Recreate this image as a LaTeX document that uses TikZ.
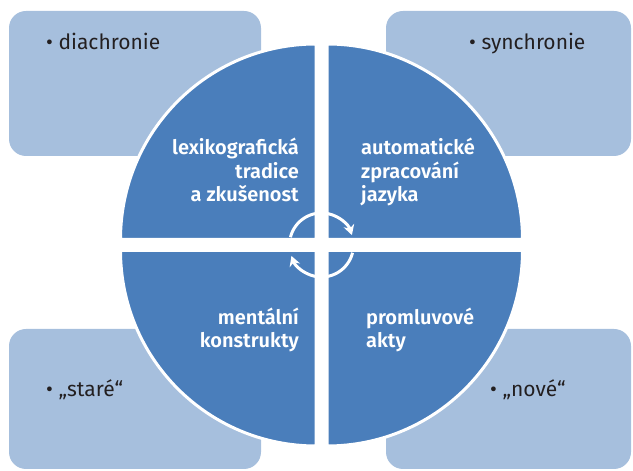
\documentclass[tikz,border=0pt]{standalone}
\usepackage{fontspec}
\setmainfont{Fira Sans}[BoldFont={Fira Sans SemiBold}]
\usetikzlibrary{arrows.meta}
\definecolor{quadblue}{HTML}{4A7EBB}
\definecolor{boxblue}{HTML}{A6BFDD}
\definecolor{labelgray}{HTML}{231F20}
\begin{document}
\begin{tikzpicture}[x=1pt,y=1pt,
  bubble/.style={fill=boxblue,rounded corners=17pt},
  quad/.style={fill=quadblue,draw=white,line width=3pt},
  qtext/.style={text=white,font=\fontsize{20}{23.5}\selectfont\bfseries,inner sep=0pt},
  btext/.style={text=labelgray,font=\fontsize{21}{24}\selectfont,inner sep=0pt,anchor=base west},
  cycarrow/.style={draw=white,line width=3pt,-{Stealth[length=10pt,width=11pt]}}]
\useasboundingbox (0,0) rectangle (633,471);
% side boxes
\fill[bubble] (9,315) rectangle (261,460);
\fill[bubble] (386,315) rectangle (631,460);
\fill[bubble] (9,2) rectangle (261,142);
\fill[bubble] (386,2) rectangle (631,142);
% quadrants of the circle
\coordinate (c) at (321.5,226);
\draw[quad,shift={(c)}] (-5.5,5.5) -- ++(-195.5,0) arc[start angle=180,end angle=90,radius=195.5] -- cycle;
\draw[quad,shift={(c)}] (5.5,5.5) -- ++(0,195.5) arc[start angle=90,end angle=0,radius=195.5] -- cycle;
\draw[quad,shift={(c)}] (5.5,-5.5) -- ++(195.5,0) arc[start angle=0,end angle=-90,radius=195.5] -- cycle;
\draw[quad,shift={(c)}] (-5.5,-5.5) -- ++(0,-195.5) arc[start angle=-90,end angle=-180,radius=195.5] -- cycle;
% cycle arrows
\draw[cycarrow] ([shift={(166:32)}]c) arc[start angle=166,end angle=18,radius=32];
\draw[cycarrow] ([shift={(-14:32)}]c) arc[start angle=-14,end angle=-160,radius=32];
% quadrant texts (base = last line)
\node[qtext,anchor=base east,align=right] (lexi) at (299,269) {lexikografická\\tradice\\a zkušenost};
\node[qtext,anchor=base west,align=left] (auto) at (361,269) {automatické\\zpracování\\jazyka};
\node[qtext,anchor=base east,align=right] (ment) at (299,123) {mentální\\konstrukty};
\node[qtext,anchor=base west,align=left] (prom) at (366,123) {promluvové\\akty};
% box texts
\node[btext] (dia) at (46,421) {• diachronie};
\node[btext] (syn) at (469,421) {• synchronie};
\node[btext] (old) at (46,74) {• „staré“};
\node[btext] (new) at (490,74) {• „nové“};
\end{tikzpicture}
\end{document}
